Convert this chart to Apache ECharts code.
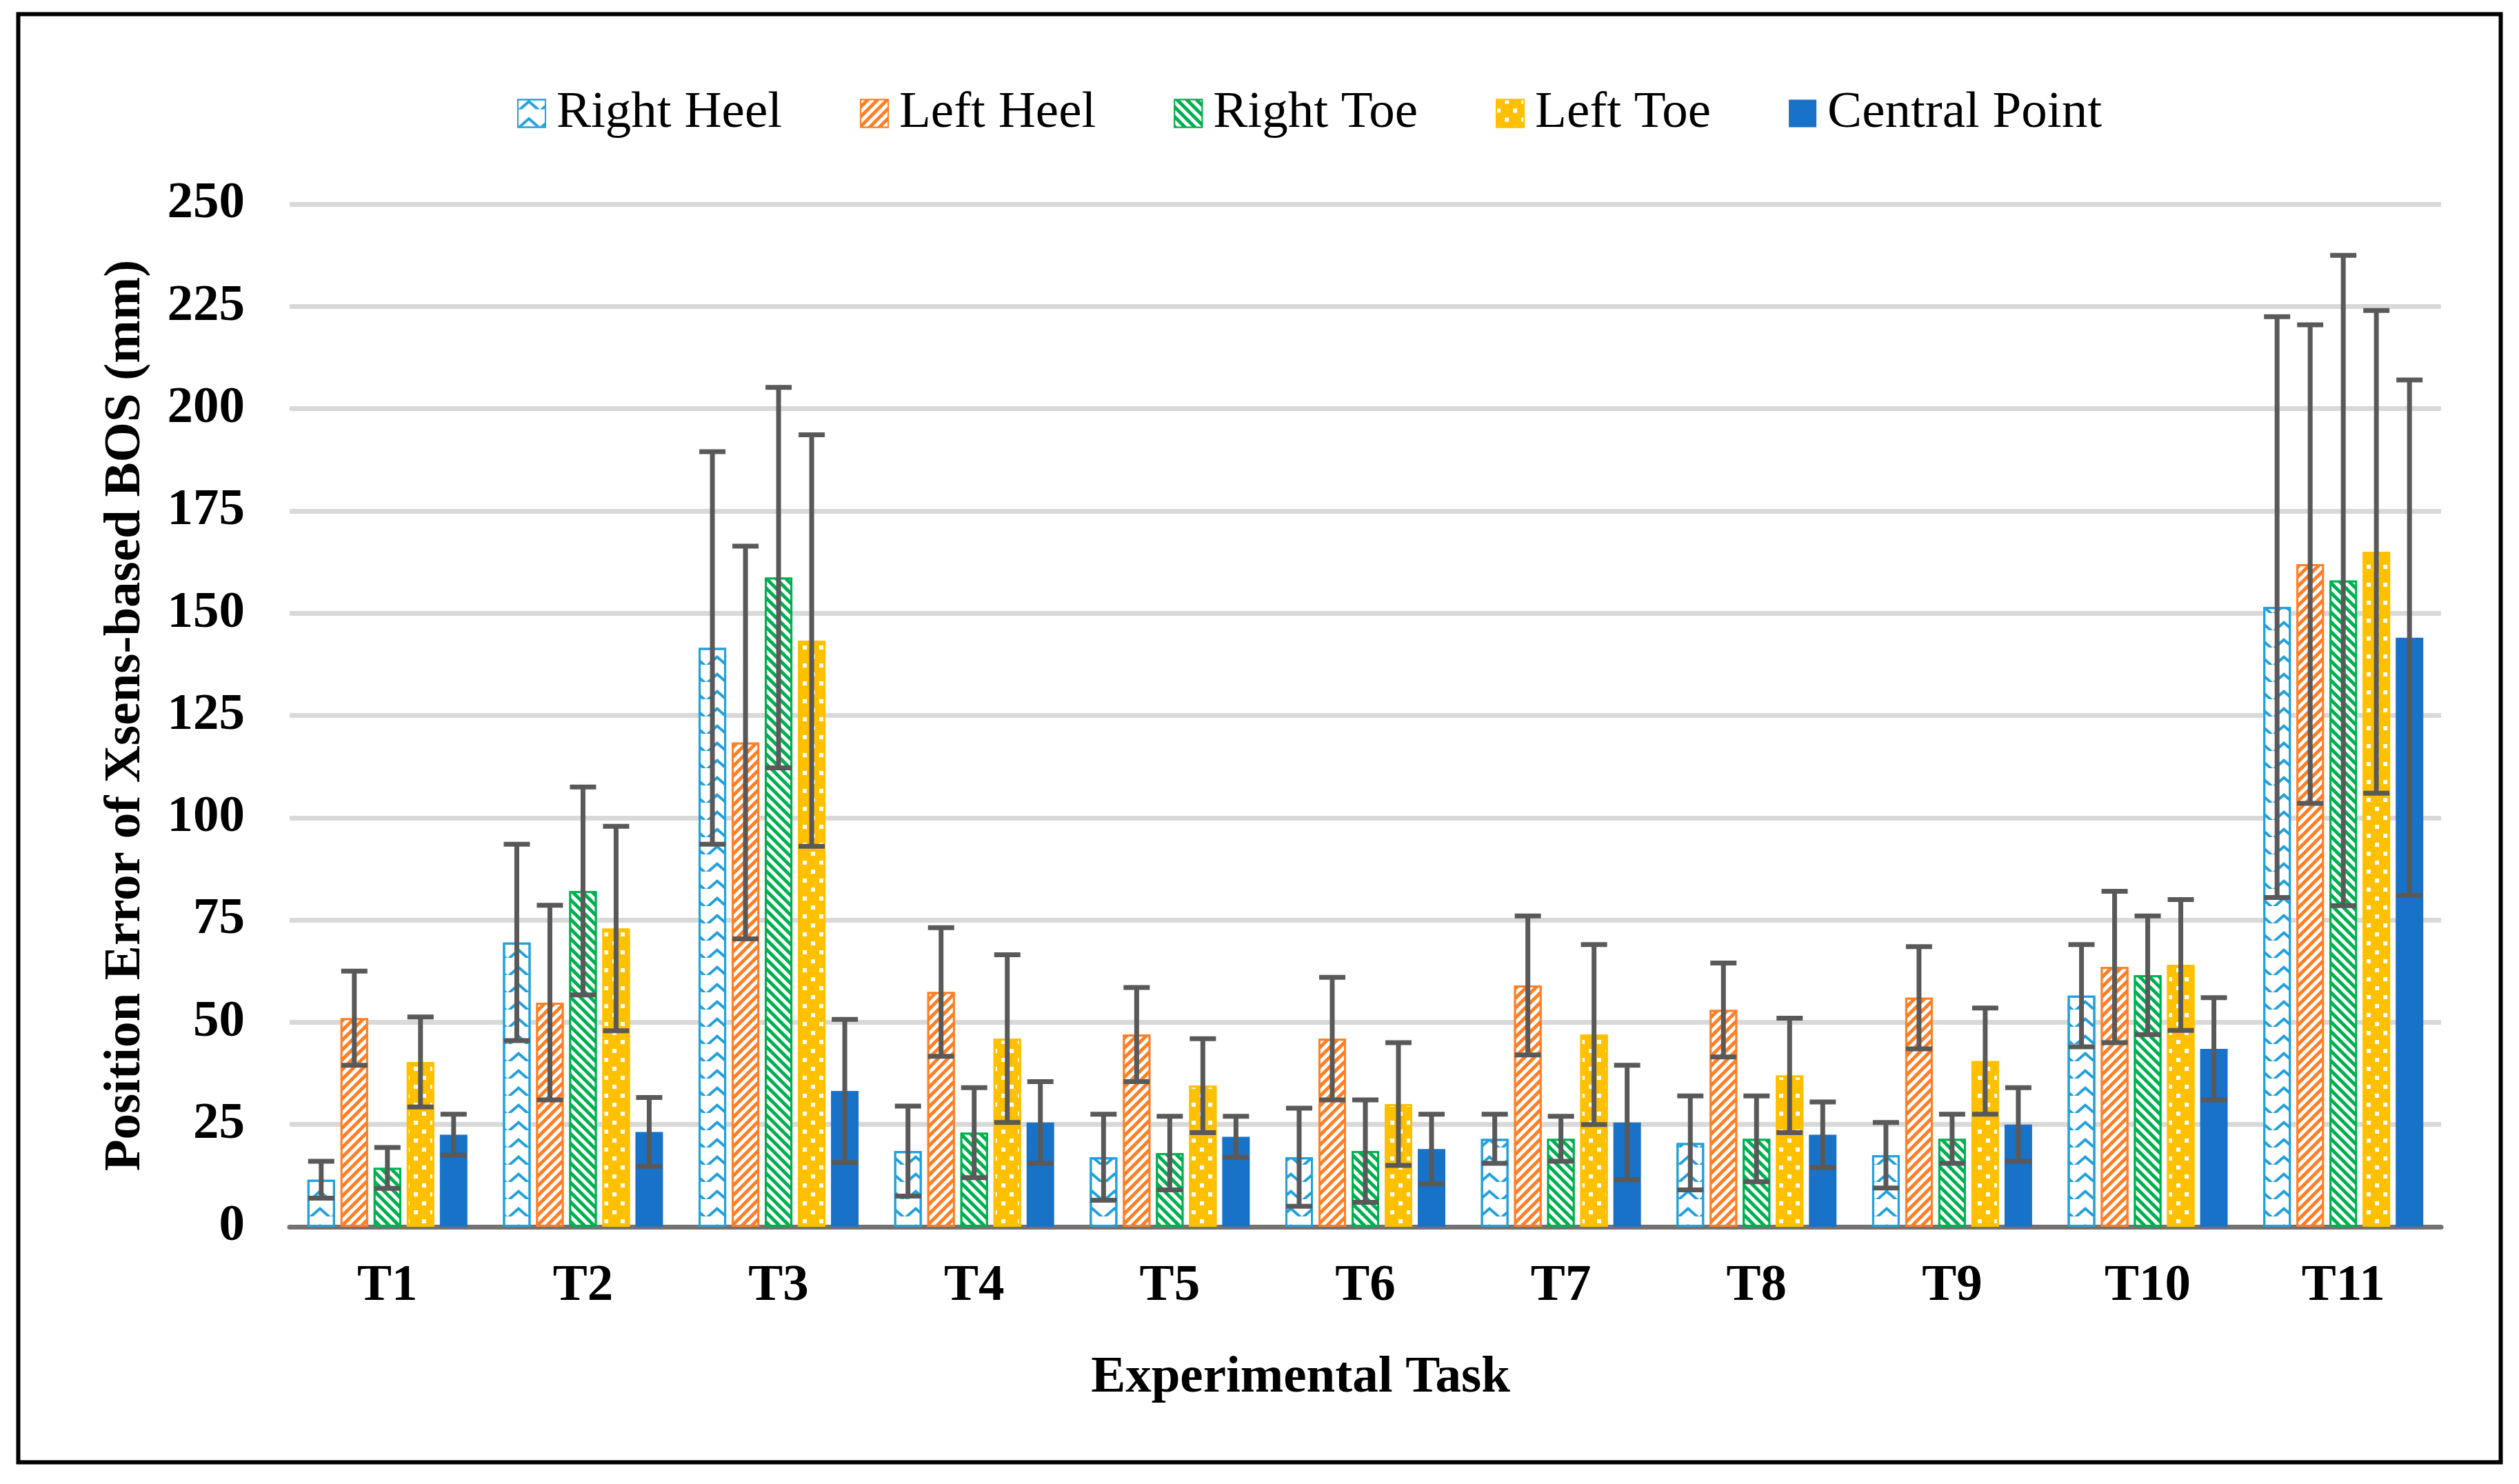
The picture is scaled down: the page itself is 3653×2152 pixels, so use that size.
<!DOCTYPE html>
<html>
<head>
<meta charset="utf-8">
<script src="https://cdn.jsdelivr.net/npm/echarts@6/dist/echarts.min.js"></script>
<style>html,body{margin:0;padding:0;background:#fff;}#c{width:3653px;height:2152px;}</style>
</head>
<body>
<div id="c"></div>
<script>
const categories = ['T1','T2','T3','T4','T5','T6','T7','T8','T9','T10','T11'];
const seriesNames = ['Right Heel','Left Heel','Right Toe','Left Toe','Central Point'];
const rightHeel    = [11.5, 69.5, 141.5, 18.5, 17.0, 17.0, 21.5, 20.5, 17.5, 56.5, 151.5];
const rightHeelSD  = [4.5, 24.0, 48.0, 11.0, 10.5, 12.0, 6.0, 11.5, 8.0, 12.5, 71.0];
const leftHeel     = [51.0, 54.8, 118.4, 57.4, 47.0, 46.0, 59.0, 53.0, 56.0, 63.5, 162.0];
const leftHeelSD   = [11.5, 23.8, 48.0, 15.7, 11.5, 15.0, 17.0, 11.5, 12.5, 18.5, 58.5];
const rightToe     = [14.4, 82.1, 158.7, 23.0, 18.0, 18.5, 21.5, 21.5, 21.5, 61.5, 158.0];
const rightToeSD   = [5.0, 25.4, 46.5, 11.0, 9.0, 12.5, 5.5, 10.5, 6.0, 14.5, 79.5];
const leftToe      = [40.3, 72.9, 143.3, 46.0, 34.5, 30.0, 47.0, 37.0, 40.5, 64.0, 165.0];
const leftToeSD    = [11.0, 25.0, 50.3, 20.5, 11.5, 15.0, 22.0, 14.0, 13.0, 16.0, 59.0];
const centralPoint   = [22.5, 23.2, 33.2, 25.5, 22.0, 19.0, 25.5, 22.5, 25.0, 43.5, 144.0];
const centralPointSD = [5.0, 8.4, 17.5, 10.0, 5.0, 8.5, 14.0, 8.0, 9.0, 12.5, 63.0];
const yTicks = { min: 0, max: 250, interval: 25 };
const xTitle = 'Experimental Task';
const yTitle = 'Position Error of Xsens-based BOS (mm)';

const means = [rightHeel, leftHeel, rightToe, leftToe, centralPoint];
const sds = [rightHeelSD, leftHeelSD, rightToeSD, leftToeSD, centralPointSD];

const FONT = "'Liberation Serif', 'Times New Roman', serif";
const BAR_W = 40;
const GAP = 0.2;
const CAP = 38;
const ERR_COLOR = '#595959';

const styles = [
  { color: '#ffffff', borderColor: '#22A0DB', borderWidth: 3,
    decal: { symbol: 'path://M0,16 L16,0 L32,16 L26,16 L16,6 L6,16 Z', symbolSize: 1, symbolKeepAspect: false,
             color: '#22A0DB', dashArrayX: [32, 0], dashArrayY: [14, 11] } },
  { color: '#FF7F27', borderColor: '#FF7F27', borderWidth: 3,
    decal: { symbol: 'rect', symbolSize: 1, color: '#ffffff', dashArrayX: [1, 0], dashArrayY: [4.5, 4.5], rotation: -Math.PI / 4 } },
  { color: '#00B050', borderColor: '#00B050', borderWidth: 3,
    decal: { symbol: 'rect', symbolSize: 1, color: '#ffffff', dashArrayX: [1, 0], dashArrayY: [4.5, 4.5], rotation: Math.PI / 4 } },
  { color: '#FFC000', borderColor: '#FFC000', borderWidth: 3,
    decal: { symbol: 'rect', symbolSize: 1, color: '#ffffff', dashArrayX: [[6, 18], [0, 12, 6, 6]], dashArrayY: [6, 6.5] } },
  { color: '#1872C8', borderColor: '#1872C8', borderWidth: 0 }
];

const barSeries = seriesNames.map((n, i) => ({
  name: n, type: 'bar', barWidth: BAR_W, barGap: (GAP * 100) + '%',
  data: means[i], itemStyle: styles[i], z: 2
}));

function errSeries(idx) {
  const m = means[idx], s = sds[idx];
  return {
    name: seriesNames[idx] + ' error', type: 'custom', z: 10, silent: true,
    data: m.map((v, i) => [i, v - s[i], v + s[i]]),
    encode: { x: 0, y: [1, 2] },
    renderItem: function (params, api) {
      const c = api.value(0);
      const lo = api.coord([c, api.value(1)]);
      const hi = api.coord([c, api.value(2)]);
      const pitch = BAR_W * (1 + GAP);
      const x = lo[0] + (idx - 2) * pitch;
      const h = CAP / 2;
      const st = { stroke: ERR_COLOR, lineWidth: 7 };
      return { type: 'group', children: [
        { type: 'line', shape: { x1: x, y1: hi[1], x2: x, y2: lo[1] }, style: st },
        { type: 'line', shape: { x1: x - h, y1: hi[1], x2: x + h, y2: hi[1] }, style: st },
        { type: 'line', shape: { x1: x - h, y1: lo[1], x2: x + h, y2: lo[1] }, style: st }
      ]};
    }
  };
}

const chart = echarts.init(document.getElementById('c'), null, { width: 3653, height: 2152 });
chart.setOption({
  animation: false,
  backgroundColor: '#ffffff',
  graphic: [
    { type: 'rect', shape: { x: 26.5, y: 20.5, width: 3600, height: 2100 },
      style: { fill: 'none', stroke: '#000', lineWidth: 6 }, z: 0 },
    { type: 'text', x: 1886, y: 1999, z: 5,
      style: { text: xTitle, fontFamily: FONT, fontSize: 75, fontWeight: 'bold', fill: '#000',
               align: 'center', verticalAlign: 'middle' } }
  ],
  legend: {
    data: seriesNames, left: 745, top: 122, icon: 'rect', itemWidth: 40, itemHeight: 40, itemGap: 113,
    textStyle: { fontFamily: FONT, fontSize: 75, color: '#000', padding: [0, 0, 0, 11] }
  },
  grid: { left: 420, right: 113, top: 296, bottom: 373, containLabel: false },
  xAxis: {
    type: 'category', data: categories,
    axisLine: { lineStyle: { color: '#767171', width: 7 } },
    axisTick: { show: false },
    axisLabel: { fontFamily: FONT, fontSize: 75, fontWeight: 'bold', color: '#000', margin: 49 }
  },
  yAxis: {
    type: 'value', min: yTicks.min, max: yTicks.max, interval: yTicks.interval,
    axisLine: { show: false }, axisTick: { show: false },
    splitLine: { lineStyle: { color: '#D9D9D9', width: 7 } },
    axisLabel: { fontFamily: FONT, fontSize: 75, fontWeight: 'bold', color: '#000', margin: 65 },
    name: yTitle, nameLocation: 'middle', nameGap: 200,
    nameTextStyle: { fontFamily: FONT, fontSize: 75, fontWeight: 'bold', color: '#000' }
  },
  series: barSeries.concat([0, 1, 2, 3, 4].map(errSeries))
});
</script>
</body>
</html>
